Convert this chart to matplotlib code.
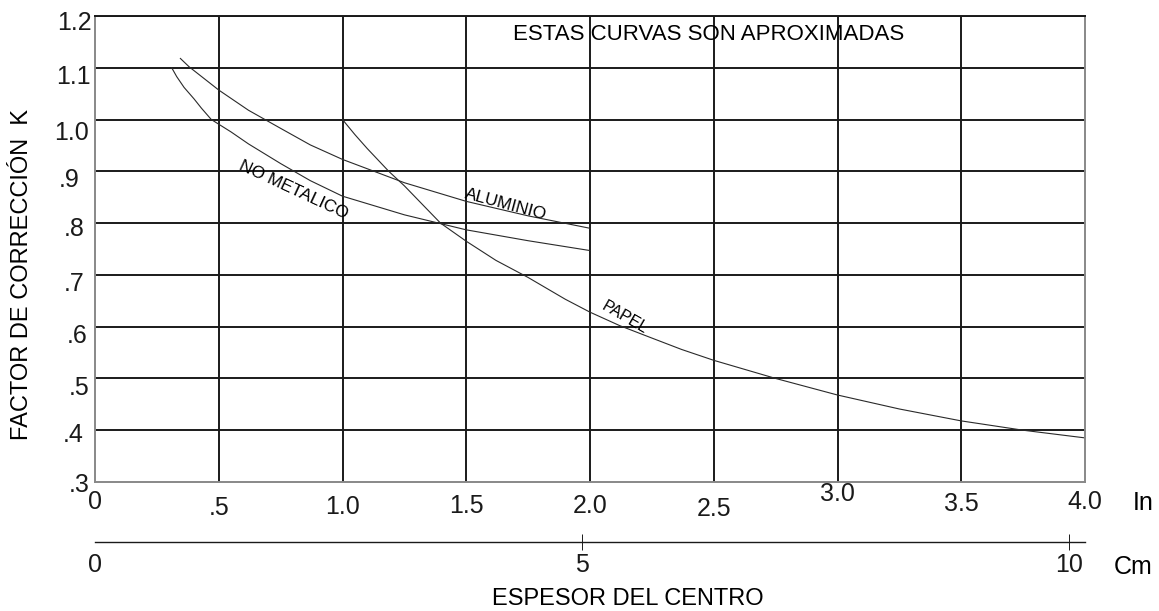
import matplotlib
matplotlib.use("Agg")
import matplotlib.pyplot as plt
from matplotlib.transforms import ScaledTranslation

plt.rcParams['font.family'] = ['Liberation Sans', 'DejaVu Sans']

# curves: thickness (in) -> correction factor K
no_metalico_x = [0.31, 0.33, 0.36, 0.40, 0.43, 0.47, 0.55, 0.62, 0.75, 0.87, 1.00,
                 1.25, 1.50, 1.75, 2.00]
no_metalico_k = [1.100, 1.083, 1.062, 1.040, 1.022, 1.000, 0.976, 0.953, 0.915, 0.882, 0.852,
                 0.816, 0.787, 0.766, 0.747]

aluminio_x = [0.345, 0.38, 0.42, 0.50, 0.62, 0.75, 0.87, 1.00, 1.25, 1.50, 1.75, 2.00]
aluminio_k = [1.118, 1.102, 1.087, 1.057, 1.018, 0.983, 0.951, 0.923, 0.878, 0.842, 0.814, 0.790]

papel_x = [1.00, 1.05, 1.10, 1.187, 1.25, 1.396, 1.50, 1.62, 1.75, 1.90, 2.00, 2.12, 2.25,
           2.37, 2.50, 2.75, 3.00, 3.25, 3.50, 3.75, 4.02]
papel_k = [1.000, 0.971, 0.944, 0.900, 0.872, 0.800, 0.765, 0.728, 0.695, 0.653, 0.628, 0.602,
           0.578, 0.556, 0.535, 0.500, 0.468, 0.441, 0.418, 0.400, 0.384]

x_ticks = [0, 0.5, 1.0, 1.5, 2.0, 2.5, 3.0, 3.5, 4.0]
x_tick_labels = ['0', '.5', '1.0', '1.5', '2.0', '2.5', '3.0', '3.5', '4.0']
y_ticks = [0.3, 0.4, 0.5, 0.6, 0.7, 0.8, 0.9, 1.0, 1.1, 1.2]
y_tick_labels = ['.3', '.4', '.5', '.6', '.7', '.8', '.9', '1.0', '1.1', '1.2']
cm_ticks = [0, 5, 10]
cm_tick_labels = ['0', '5', '10']
in_to_cm = 2.54

# hand-lettered scan: labels sit a bit off their ticks (pixels)
x_label_drop = [27, 33, 32, 31, 31, 34, 19, 29, 27]
y_label_drop = [10, 12, 17, 16, 16, 13, 16, 20, 16, 14.5]
y_label_shift = [-5, -11, -5, -7, -10, -10, -15, -6, -4, -3]

W, H = 1159, 611
fig = plt.figure(figsize=(W / 100, H / 100), dpi=100)
left, right, top, bottom = 95 / W, 1085 / W, 1 - 16 / H, 1 - 482 / H
ax = fig.add_axes([left, bottom, right - left, top - bottom])

curve_color = '#2a2a2a'
ax.plot(no_metalico_x, no_metalico_k, color=curve_color, lw=0.8)
ax.plot(aluminio_x, aluminio_k, color=curve_color, lw=0.8)
ax.plot(papel_x, papel_k, color=curve_color, lw=0.8)

ax.set_xlim(0, 4.0)
ax.set_ylim(0.3, 1.2)
ax.set_xticks(x_ticks)
ax.set_xticklabels(x_tick_labels)
ax.set_yticks(y_ticks)
ax.set_yticklabels(y_tick_labels)
ax.tick_params(length=0, pad=0, labelsize=18, colors='#1a1a1a')

ax.grid(True, color='#1a1a1a', lw=1.4)
xgl = ax.get_xgridlines()
xgl[0].set_visible(False)
xgl[-1].set_visible(False)
ax.get_ygridlines()[0].set_visible(False)
for name, sp in ax.spines.items():
    sp.set_color('#1a1a1a' if name == 'top' else '#888888')
    sp.set_linewidth(1.4)

for lab, d in zip(ax.get_xticklabels(), x_label_drop):
    lab.set_verticalalignment('baseline')
    lab.set_transform(lab.get_transform() + ScaledTranslation(0, -d / 100, fig.dpi_scale_trans))
for lab, d, s in zip(ax.get_yticklabels(), y_label_drop, y_label_shift):
    lab.set_verticalalignment('baseline')
    lab.set_transform(lab.get_transform() + ScaledTranslation(s / 100, -d / 100, fig.dpi_scale_trans))

# curve names and note
ax.text(0.80, 0.865, 'NO METALICO', rotation=-25, fontsize=12.5, ha='center', va='center')
ax.text(1.66, 0.835, 'ALUMINIO', rotation=-15, fontsize=12.5, ha='center', va='center')
ax.text(2.14, 0.618, 'PAPEL', rotation=-30, fontsize=11.5, ha='center', va='center')
fig.text(709 / W, 1 - 35 / H, 'ESTAS CURVAS SON APROXIMADAS', fontsize=16, ha='center', va='center')

fig.text(22 / W, 1 - 275 / H, 'FACTOR DE CORRECCIÓN  K', rotation=90, fontsize=17,
         ha='center', va='center')
fig.text(1143 / W, 1 - 503 / H, 'In', fontsize=18, ha='center', va='center')

# centimetre scale under the inch axis
ax2 = fig.add_axes([left, 1 - 542 / H, right - left, 1e-4])
ax2.set_xlim(0, 4.0 * in_to_cm)
for name in ['top', 'left', 'right']:
    ax2.spines[name].set_visible(False)
ax2.spines['bottom'].set_color('#1a1a1a')
ax2.spines['bottom'].set_linewidth(1.0)
ax2.set_yticks([])
ax2.set_xticks(cm_ticks)
ax2.set_xticklabels(cm_tick_labels)
ax2.tick_params(axis='x', direction='inout', length=12, width=0.7, pad=1.8,
                labelsize=18, colors='#1a1a1a')
ax2.xaxis.get_major_ticks()[0].tick1line.set_visible(False)
ax2.patch.set_visible(False)
fig.text(1133 / W, 1 - 567 / H, 'Cm', fontsize=18, ha='center', va='center')
fig.text(628 / W, 1 - 599 / H, 'ESPESOR DEL CENTRO', fontsize=17, ha='center', va='center')

fig.savefig('out.png', dpi=100)
